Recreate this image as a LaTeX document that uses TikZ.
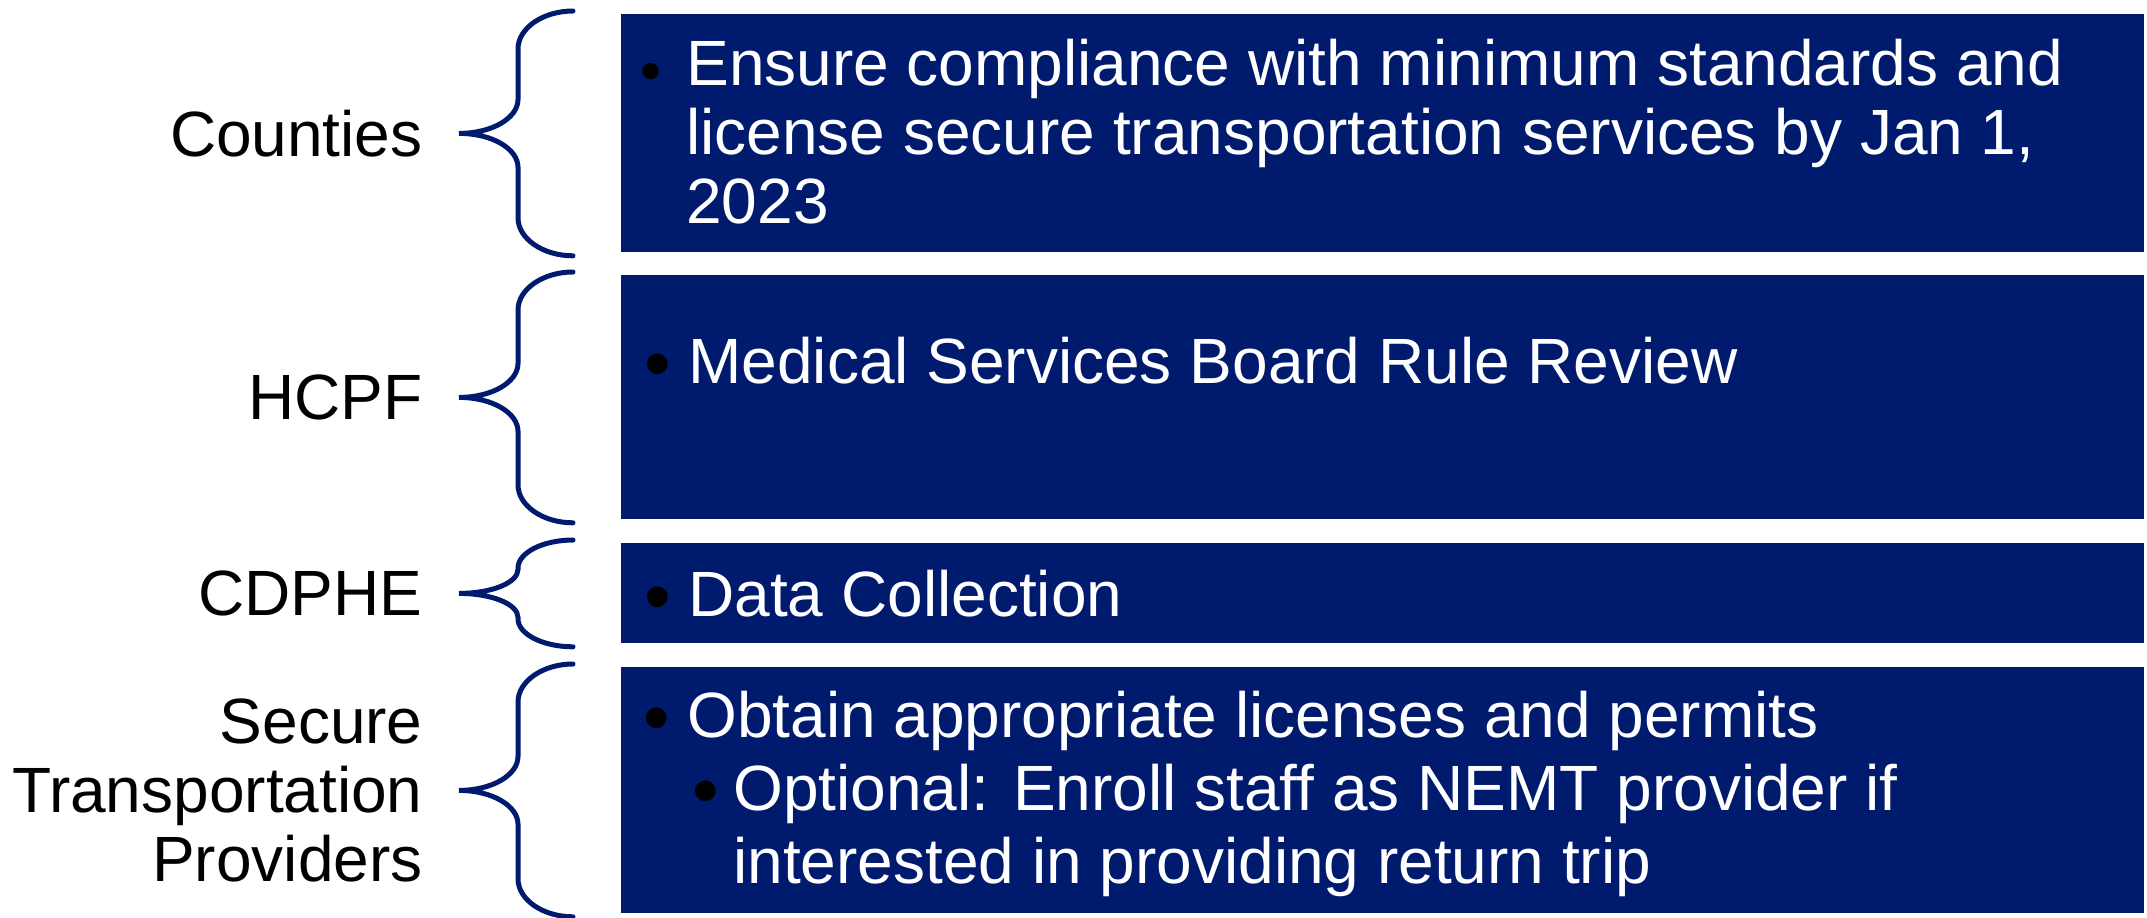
\documentclass[tikz,border=0pt]{standalone}
\usepackage{fontspec}
\setmainfont{Liberation Sans}
\usepackage{tikz}
\usetikzlibrary{calc,positioning}
\definecolor{cnavy}{RGB}{0,26,110}

% bullet glyph in a box of given width
\newcommand{\bul}[2]{\makebox[#1][l]{\raisebox{-3pt}{\fontsize{#2}{#2}\selectfont\color{black}\textbullet}}}
% curly brace left of a box: box name, corner height, middle height
\newcommand{\sidebrace}[3]{%
  \draw[brace line] let \p1=(#1.north west), \p2=(#1.south west),
      \p3=($(#1.north west)!0.5!(#1.south west)$) in
    (\x1-24pt,\y1+1.5pt) .. controls (\x1-39pt,\y1+1.5pt) and (\x1-51.5pt,\y1+1.5pt-0.45*#2) .. (\x1-51.5pt,\y1+1.5pt-#2)
    -- (\x1-51.5pt,\y3+#3) .. controls (\x1-51.5pt,\y3+0.45*#3) and (\x1-64.5pt,\y3) .. (\x1-81pt,\y3)
    .. controls (\x1-64.5pt,\y3) and (\x1-51.5pt,\y3-0.45*#3) .. (\x1-51.5pt,\y3-#3)
    -- (\x1-51.5pt,\y2-1.5pt+#2) .. controls (\x1-51.5pt,\y2-1.5pt+0.45*#2) and (\x1-39pt,\y2-1.5pt) .. (\x1-24pt,\y2-1.5pt);
  \coordinate (#1-tip) at ($(#1.north west)!0.5!(#1.south west)+(-81pt,0)$);
}

\begin{document}
\begin{tikzpicture}[x=0.5pt,y=-0.5pt,
  box node/.style={rectangle,fill=cnavy,anchor=north west,minimum width=761.5pt,inner sep=0},
  text node/.style={text=white,font=\fontsize{32}{34.5}\selectfont,align=left,inner sep=0,anchor=base west},
  side node/.style={font=\fontsize{32}{34.5}\selectfont,align=right,inner sep=0},
  brace line/.style={draw=cnavy,line width=2.5pt,line cap=round}]
  \useasboundingbox (0,0) rectangle (2147,917);

  \node[box node,minimum height=119pt] (b1) at (621,14) {};
  \node[box node,minimum height=122pt] (b2) at (621,275) {};
  \node[box node,minimum height=50pt] (b3) at (621,543) {};
  \node[box node,minimum height=123pt] (b4) at (621,667) {};

  % anchored at the last line's baseline
  \node[text node] (t1) at ([xshift=9.5pt,yshift=-104.5pt]b1.north west)
    {\bul{23pt}{30pt}Ensure compliance with minimum standards and\\
     \hspace*{23pt}license secure transportation services by Jan 1,\\
     \hspace*{23pt}2023};
  \node[text node] (t2) at ([xshift=11.5pt,yshift=-54pt]b2.north west)
    {\bul{22pt}{38pt}Medical Services Board Rule Review};
  \node[text node] (t3) at ([xshift=11.5pt,yshift=-36.5pt]b3.north west)
    {\bul{22pt}{38pt}Data Collection};
  \node[text node,font=\fontsize{32}{36.5}\selectfont] (t4) at ([xshift=11pt,yshift=-108pt]b4.north west)
    {\bul{22pt}{38pt}Obtain appropriate licenses and permits\\
     \hspace*{24.5pt}\bul{20.5pt}{38pt}Optional: Enroll staff as NEMT provider if\\
     \hspace*{45pt}interested in providing return trip};

  \sidebrace{b1}{19pt}{17pt}
  \sidebrace{b2}{19pt}{17pt}
  \sidebrace{b3}{14pt}{12pt}
  \sidebrace{b4}{19pt}{17pt}

  \node[side node,left=18pt of b1-tip] (l1) {Counties};
  \node[side node,left=18pt of b2-tip] (l2) {HCPF};
  \node[side node,left=18pt of b3-tip] (l3) {CDPHE};
  \node[side node,left=18pt of b4-tip] (l4) {Secure\\Transportation\\Providers};
\end{tikzpicture}
\end{document}
